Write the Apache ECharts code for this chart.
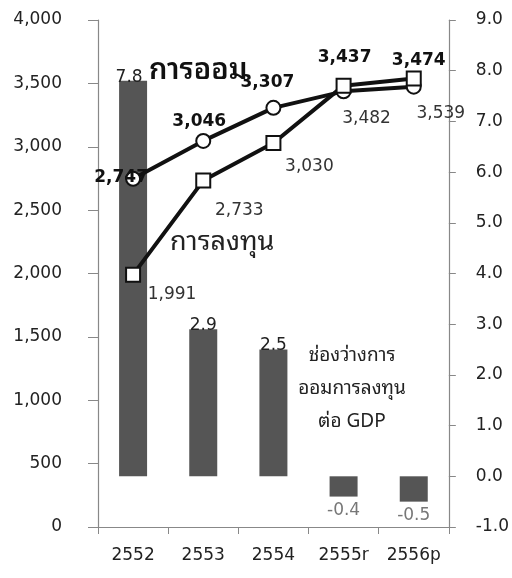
<!DOCTYPE html>
<html><head><meta charset="utf-8">
<script src="https://cdn.jsdelivr.net/npm/echarts@6/dist/echarts.min.js"></script>
<style>html,body{margin:0;padding:0;background:#fff}#c{width:512px;height:578px}</style>
</head><body><div id="c"></div>
<script>
const categories = ['2552', '2553', '2554', '2555r', '2556p'];
const savings = [2747, 3046, 3307, 3437, 3474];
const investment = [1991, 2733, 3030, 3482, 3539];
const gapToGDP = [7.8, 2.9, 2.5, -0.4, -0.5];
const leftTicks = { min: 0, max: 4000, interval: 500 };
const rightTicks = { min: -1, max: 9, interval: 1 };

const FONT = "'DejaVu Sans', 'Noto Sans', sans-serif";
const THAI = "'Noto Sans Thai Looped', 'Noto Sans Thai', 'Noto Sans', 'DejaVu Sans', sans-serif";
const savOffsets = [[-12, 20], [-4, 2], [-6, -4], [1, -12], [5, -5]];
const invOffsets = [[39, 20], [36, 30], [36, 24], [23, 33], [27, 35]];

const chart = echarts.init(document.getElementById('c'), null, { renderer: 'canvas' });
chart.setOption({
  animation: false,
  grid: { left: 98, right: 63, top: 20, bottom: 51 },
  xAxis: {
    type: 'category', data: categories,
    axisLine: { lineStyle: { color: '#888', width: 1.2 } },
    axisTick: { show: true, length: 7, lineStyle: { color: '#888' } },
    axisLabel: { color: '#222', fontSize: 17, fontFamily: FONT, margin: 20, interval: 0 }
  },
  yAxis: [{
    type: 'value', min: leftTicks.min, max: leftTicks.max, interval: leftTicks.interval,
    axisLine: { show: true, lineStyle: { color: '#888', width: 1.2 } },
    axisTick: { show: true, length: 10, lineStyle: { color: '#888' } },
    splitLine: { show: false },
    axisLabel: { color: '#222', fontSize: 17, fontFamily: FONT, margin: 36,
      formatter: v => v.toLocaleString('en-US') }
  }, {
    type: 'value', min: rightTicks.min, max: rightTicks.max, interval: rightTicks.interval,
    position: 'right',
    axisLine: { show: true, lineStyle: { color: '#888', width: 1.2 } },
    axisTick: { show: true, length: 7, lineStyle: { color: '#888' } },
    splitLine: { show: false },
    axisLabel: { color: '#222', fontSize: 17, fontFamily: FONT, margin: 27,
      formatter: v => v.toFixed(1) }
  }],
  series: [{
    type: 'bar', yAxisIndex: 1, barWidth: 28, z: 1,
    itemStyle: { color: '#555' },
    data: gapToGDP.map((v, i) => ({
      value: v,
      label: v >= 0
        ? { show: true, position: 'top', distance: -5, offset: [i === 0 ? -4 : 0, 0], color: '#222', fontSize: 17, fontFamily: FONT }
        : { show: true, position: 'bottom', distance: 5, color: '#777', fontSize: 17, fontFamily: FONT }
    }))
  }, {
    type: 'line', yAxisIndex: 0, z: 5,
    symbol: 'circle', symbolSize: 14,
    lineStyle: { color: '#111', width: 4 },
    itemStyle: { color: '#fff', borderColor: '#111', borderWidth: 2 },
    data: savings.map((v, i) => ({
      value: v,
      label: { show: true, position: 'top', offset: savOffsets[i], color: '#111', fontSize: 17, fontWeight: 'bold', fontFamily: FONT,
        formatter: p => p.value.toLocaleString('en-US') }
    }))
  }, {
    type: 'line', yAxisIndex: 0, z: 6,
    symbol: 'rect', symbolSize: 14,
    lineStyle: { color: '#111', width: 4 },
    itemStyle: { color: '#fff', borderColor: '#111', borderWidth: 2 },
    data: investment.map((v, i) => ({
      value: v,
      label: { show: true, position: 'inside', offset: invOffsets[i], color: '#333', fontSize: 17, fontFamily: FONT,
        formatter: p => p.value.toLocaleString('en-US') }
    }))
  }],
  graphic: [
    { type: 'text', x: 149, y: 56, z: 10,
      style: { text: 'การออม', font: "600 29px " + THAI, fill: '#111' } },
    { type: 'text', x: 170, y: 229, z: 10,
      style: { text: 'การลงทุน', font: "27px " + THAI, fill: '#222' } },
    { type: 'text', x: 352, y: 339, z: 10,
      style: { text: 'ช่องว่างการ\nออมการลงทุน\nต่อ GDP', font: "19px " + THAI, fill: '#222',
        align: 'center', lineHeight: 33 } }
  ]
});
</script></body></html>
